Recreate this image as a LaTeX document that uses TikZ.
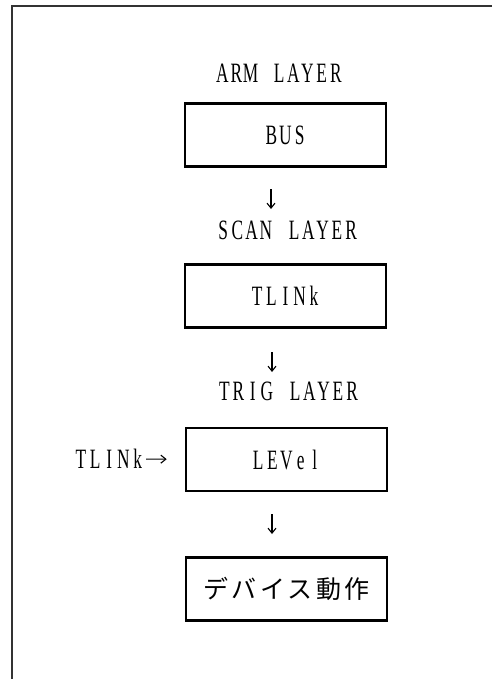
\documentclass[tikz,border=0pt]{standalone}
\usepackage{fontspec}
\usepackage{tikz}
\usetikzlibrary{positioning, arrows.meta}
\newfontfamily\latfont[FakeStretch=0.62]{Liberation Serif}
\newfontfamily\jpfont[LetterSpace=14]{Noto Sans CJK JP}
% each letter in a cell of fixed width, as on the printed page
\newcommand\mono[1]{\monoloop#1\relax}
\def\monoloop#1{\ifx#1\relax\else\makebox[14.2pt]{#1}\expandafter\monoloop\fi}
\tikzset{
  layer/.style = {anchor=west, inner sep=0pt, font=\latfont\fontsize{28}{32}\selectfont},
  blk/.style   = {draw, line width=2.6pt, rectangle, minimum width=201pt,
                  minimum height=63pt, inner sep=0pt,
                  font=\latfont\fontsize{28}{32}\selectfont},
  ar/.style    = {-{Straight Barb[length=5pt, width=8pt]}, line width=1.1pt},
}

\begin{document}
\begin{tikzpicture}[x=1pt, y=-1pt]
  \useasboundingbox (0,0) rectangle (492,679);
  % frame (only top and left edges inside the page)
  \coordinate (fr) at (12,6);
  \draw[line width=1.4pt, black!80] (492,6) -- (fr) -- (12,679);

  \node[layer] (arm)  at (215,73)  {\mono{ARM~LAYER}};
  \node[blk]   (bus)  at (285.5,135) {\mono{BUS}};
  \node[layer] (scan) at (216,230) {\mono{SCAN~LAYER}};
  \node[blk]   (tlk)  at (285.5,296) {\mono{TLINk}};
  \node[layer] (trig) at (217,391) {\mono{TRIG~LAYER}};
  \node[blk]   (lev)  at (286.5,459.5) {\mono{LEVel}};
  \node[blk]   (dev)  at (286.5,589) {\jpfont\fontsize{25}{29}\selectfont デバイス動作};
  \node[layer, anchor=east] (inp) at (145,459) {\mono{TLINk}};

  \coordinate (d1a) at (271,189);
  \coordinate (d1b) at (271,209);
  \coordinate (d2a) at (272,352);
  \coordinate (d2b) at (272,372);
  \coordinate (d3a) at (272,514);
  \coordinate (d3b) at (272,534);
  \draw[ar] (d1a) -- (d1b);
  \draw[ar] (d2a) -- (d2b);
  \draw[ar] (d3a) -- (d3b);
  \draw[ar, shorten <=1pt, shorten >=18pt] (inp) -- (lev);
\end{tikzpicture}
\end{document}
